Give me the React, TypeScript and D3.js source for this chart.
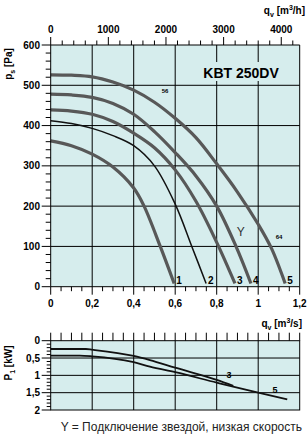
import React from "react";
import * as d3 from "d3";

// ---- data ----
const curveIds = ["1", "2", "3", "4", "5"];
const c1Q = [0, 0.1, 0.2, 0.3, 0.4, 0.45, 0.528, 0.595];
const c1P = [362, 350, 329, 297, 245, 200, 100, 8];
const c2Q = [0, 0.1, 0.2, 0.3, 0.4, 0.5, 0.6, 0.68, 0.749];
const c2P = [412, 405, 393, 375, 350, 300, 205, 100, 8];
const c3Q = [0, 0.1, 0.2, 0.3, 0.4, 0.5, 0.6, 0.7, 0.8, 0.888];
const c3P = [439, 436, 428, 410, 381, 345, 290, 212, 110, 8];
const c4Q = [0, 0.1, 0.2, 0.3, 0.4, 0.5, 0.6, 0.7, 0.8, 0.893, 0.965];
const c4P = [478, 476, 470, 455, 428, 385, 333, 275, 200, 100, 8];
const c5Q = [0, 0.1, 0.2, 0.3, 0.4, 0.5, 0.6, 0.7, 0.8, 0.9, 1.0, 1.064, 1.13];
const c5P = [526, 525, 521, 508, 488, 458, 418, 370, 305, 235, 155, 95, 8];
const thinCurve = "2";

const p3Q = [0, 0.17, 0.2, 0.4, 0.478, 0.6, 0.8, 0.88];
const p3V = [0.24, 0.24, 0.26, 0.44, 0.56, 0.78, 1.13, 1.3];
const p5Q = [0, 0.14, 0.2, 0.4, 0.478, 0.6, 0.8, 1.0, 1.14];
const p5V = [0.43, 0.43, 0.45, 0.62, 0.75, 0.91, 1.21, 1.5, 1.69];

const qTicks = [0, 0.2, 0.4, 0.6, 0.8, 1, 1.2];
const qTickLabels = ["0", "0,2", "0,4", "0,6", "0,8", "1", "1,2"];
const hTicks = [0, 1000, 2000, 3000, 4000];
const paTicks = [0, 100, 200, 300, 400, 500, 600];
const kwTicks = [0, 0.5, 1, 1.5, 2];
const kwTickLabels = ["0", "0,5", "1", "1,5", "2"];

const title = "KBT 250DV";
const note = "Y = Подключение звездой, низкая скорость";

const BG = "#d6eded";
const CURVE = "#585858";
const FONT = "'Liberation Sans', Arial, sans-serif";

export default function App() {
  const x = d3.scaleLinear().domain([0, 1.2]).range([50.7, 299.7]);
  const y = d3.scaleLinear().domain([0, 600]).range([286.7, 45]);
  const yk = d3.scaleLinear().domain([0, 2]).range([340.7, 410]);
  const xh = (v: number) => x(v / 3600);

  const curves = [
    [c1Q, c1P],
    [c2Q, c2P],
    [c3Q, c3P],
    [c4Q, c4P],
    [c5Q, c5P],
  ];
  const line = d3
    .line<[number, number]>()
    .x((d) => x(d[0]))
    .y((d) => y(d[1]))
    .curve(d3.curveCatmullRom.alpha(0.5));
  const lineK = d3
    .line<[number, number]>()
    .x((d) => x(d[0]))
    .y((d) => yk(d[1]))
    .curve(d3.curveMonotoneX);

  const zip = (a: number[], b: number[]) => a.map((v, i) => [v, b[i]] as [number, number]);

  const minorQ = d3.range(0, 1.2001, 0.05);
  const minorH = d3.range(0, 4301, 200);
  const minorPa = d3.range(0, 601, 20);
  const minorKw = d3.range(0, 2.001, 0.1);

  const [x0, x1] = x.range();
  const tickFont = { fontFamily: FONT, fontWeight: 700, fontSize: 10 } as const;

  return (
    <svg width={308} height={439} style={{ position: "absolute", left: 0, top: 0 }}>
      <rect x={0} y={0} width={308} height={439} fill="#fff" />
      {/* ===== top chart ===== */}
      <rect x={x0} y={y(600)} width={x1 - x0} height={y(0) - y(600)} fill={BG} />
      {qTicks.slice(1, -1).map((q) => (
        <line key={"gv" + q} x1={x(q)} x2={x(q)} y1={y(600)} y2={y(0)} stroke="#000" strokeWidth={1} />
      ))}
      {paTicks.slice(1, -1).map((p) => (
        <line key={"gh" + p} x1={x0} x2={x1} y1={y(p)} y2={y(p)} stroke="#000" strokeWidth={1} />
      ))}
      {/* title with mask */}
      <rect x={198} y={62} width={86} height={19} fill={BG} />
      <text x={241} y={78} textAnchor="middle" style={{ fontFamily: FONT, fontWeight: 700, fontSize: 14 }}>
        {title}
      </text>
      {/* curves */}
      {curves.map(([q, p], i) => (
        <path
          key={"c" + i}
          d={line(zip(q, p)) || ""}
          fill="none"
          stroke={curveIds[i] === thinCurve ? "#111" : CURVE}
          strokeWidth={curveIds[i] === thinCurve ? 1.5 : 3.2}
        />
      ))}
      {curves.map(([q], i) => (
        <text
          key={"cl" + i}
          x={x(q[q.length - 1]) + 2}
          y={284}
          style={{ fontFamily: FONT, fontWeight: 700, fontSize: 10 }}
        >
          {curveIds[i]}
        </text>
      ))}
      <text x={165} y={93} textAnchor="middle" style={{ fontFamily: FONT, fontWeight: 700, fontSize: 6 }}>
        56
      </text>
      <text x={279} y={239} textAnchor="middle" style={{ fontFamily: FONT, fontWeight: 700, fontSize: 6 }}>
        64
      </text>
      <text x={240.7} y={236} textAnchor="middle" style={{ fontFamily: FONT, fontSize: 12, fill: "#333" }}>
        Y
      </text>
      {/* frame */}
      <line x1={x0} x2={x1} y1={y(600)} y2={y(600)} stroke="#000" />
      <line x1={x0} x2={x1} y1={y(0)} y2={y(0)} stroke="#000" />
      <line x1={x0} x2={x0} y1={y(600)} y2={y(0)} stroke="#000" />
      <line x1={x1} x2={x1} y1={y(600)} y2={y(0)} stroke="#000" />
      {/* top axis m3/h */}
      {minorH.map((h) => (
        <line
          key={"th" + h}
          x1={xh(h)}
          x2={xh(h)}
          y1={y(600)}
          y2={y(600) - (h % 1000 === 0 ? 8 : 4.5)}
          stroke="#000"
        />
      ))}
      {hTicks.map((h) => (
        <text key={"thl" + h} x={xh(h)} y={33} textAnchor="middle" style={tickFont}>
          {h}
        </text>
      ))}
      <text x={305} y={14} textAnchor="end" style={{ fontFamily: FONT, fontWeight: 700, fontSize: 10 }}>
        <tspan>q</tspan>
        <tspan dy={3} fontSize={7}>v</tspan>
        <tspan dy={-3}> [m</tspan>
        <tspan dy={-4} fontSize={7}>3</tspan>
        <tspan dy={4}>/h]</tspan>
      </text>
      {/* bottom axis m3/s */}
      {minorQ.map((q) => {
        const major = Math.abs(q / 0.2 - Math.round(q / 0.2)) < 1e-6;
        return (
          <line key={"tq" + q} x1={x(q)} x2={x(q)} y1={y(0)} y2={y(0) + (major ? 8 : 4.5)} stroke="#000" />
        );
      })}
      {qTicks.map((q, i) => (
        <text key={"tql" + q} x={x(q)} y={307} textAnchor="middle" style={tickFont}>
          {qTickLabels[i]}
        </text>
      ))}
      <text x={302} y={327} textAnchor="end" style={{ fontFamily: FONT, fontWeight: 700, fontSize: 10 }}>
        <tspan>q</tspan>
        <tspan dy={3} fontSize={7}>v</tspan>
        <tspan dy={-3}> [m</tspan>
        <tspan dy={-4} fontSize={7}>3</tspan>
        <tspan dy={4}>/s]</tspan>
      </text>
      {/* left axis Pa */}
      {minorPa.map((p) => (
        <line key={"tp" + p} x1={x0} x2={x0 - (p % 100 === 0 ? 9 : 5)} y1={y(p)} y2={y(p)} stroke="#000" />
      ))}
      {paTicks.map((p) => (
        <text key={"tpl" + p} x={40} y={y(p) + 3.5} textAnchor="end" style={tickFont}>
          {p}
        </text>
      ))}
      <text
        transform="translate(12,64) rotate(-90)"
        textAnchor="middle"
        style={{ fontFamily: FONT, fontWeight: 700, fontSize: 10 }}
      >
        <tspan>p</tspan>
        <tspan dy={3} fontSize={7}>s</tspan>
        <tspan dy={-3}> [Pa]</tspan>
      </text>

      {/* ===== bottom chart ===== */}
      <rect x={x0} y={yk(0)} width={x1 - x0} height={yk(2) - yk(0)} fill={BG} />
      {qTicks.slice(1, -1).map((q) => (
        <line key={"kgv" + q} x1={x(q)} x2={x(q)} y1={yk(0)} y2={yk(2)} stroke="#000" />
      ))}
      {kwTicks.slice(1, -1).map((k) => (
        <line key={"kgh" + k} x1={x0} x2={x1} y1={yk(k)} y2={yk(k)} stroke="#000" />
      ))}
      <path d={lineK(zip(p3Q, p3V)) || ""} fill="none" stroke="#111" strokeWidth={1.8} />
      <path d={lineK(zip(p5Q, p5V)) || ""} fill="none" stroke="#111" strokeWidth={1.8} />
      <text x={229} y={378} textAnchor="middle" style={{ fontFamily: FONT, fontWeight: 700, fontSize: 9 }}>
        3
      </text>
      <text x={275} y={393} textAnchor="middle" style={{ fontFamily: FONT, fontWeight: 700, fontSize: 9 }}>
        5
      </text>
      <rect x={x0} y={yk(0)} width={x1 - x0} height={yk(2) - yk(0)} fill="none" stroke="#000" />
      {minorQ.map((q) => (
        <line key={"ktq" + q} x1={x(q)} x2={x(q)} y1={yk(0)} y2={yk(0) - 8} stroke="#000" />
      ))}
      {minorKw.map((k) => {
        const major = Math.abs(k / 0.5 - Math.round(k / 0.5)) < 1e-6;
        return <line key={"ktk" + k} x1={x0} x2={x0 - (major ? 9 : 4)} y1={yk(k)} y2={yk(k)} stroke="#000" />;
      })}
      {kwTicks.map((k, i) => (
        <text key={"ktkl" + k} x={40} y={yk(k) + 3.5} textAnchor="end" style={tickFont}>
          {kwTickLabels[i]}
        </text>
      ))}
      <text
        transform="translate(12,363) rotate(-90)"
        textAnchor="middle"
        style={{ fontFamily: FONT, fontWeight: 700, fontSize: 10 }}
      >
        <tspan>P</tspan>
        <tspan dy={3} fontSize={7}>1</tspan>
        <tspan dy={-3}> [kW]</tspan>
      </text>

      <text x={302} y={431} textAnchor="end" style={{ fontFamily: FONT, fontSize: 12, fill: "#222" }}>
        {note}
      </text>
    </svg>
  );
}
